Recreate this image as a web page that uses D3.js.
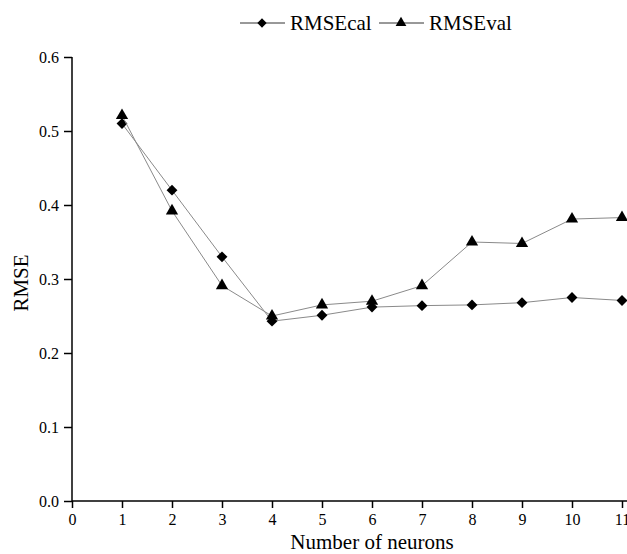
<!DOCTYPE html>
<html>
<head>
<meta charset="utf-8">
<script src="https://cdn.jsdelivr.net/npm/d3@7"></script>
<style>
  body { margin: 0; background: #fff; }
  text { font-family: "Liberation Serif", "Times New Roman", serif; fill: #000; }
</style>
</head>
<body>
<div id="chart"></div>
<script>
var neurons = [1, 2, 3, 4, 5, 6, 7, 8, 9, 10, 11];
var rmseCal = [0.510, 0.420, 0.330, 0.243, 0.251, 0.262, 0.264, 0.265, 0.268, 0.275, 0.271];
var rmseVal = [0.521, 0.392, 0.291, 0.250, 0.265, 0.270, 0.291, 0.350, 0.348, 0.381, 0.383];
var xTicks = [0, 1, 2, 3, 4, 5, 6, 7, 8, 9, 10, 11];
var yTicks = [0, 0.1, 0.2, 0.3, 0.4, 0.5, 0.6];

var w = 627, h = 554,
    pLeft = 72, pRight = 622, pTop = 57, pBottom = 501;

var svg = d3.select('#chart').append('svg')
  .attr('width', w)
  .attr('height', h);

var x = d3.scaleLinear().domain([0, 11]).range([pLeft, pRight]);
var y = d3.scaleLinear().domain([0, 0.6]).range([pBottom, pTop]);

// axes
var xAxis = svg.append('g')
  .attr('transform', 'translate(0,' + pBottom + ')')
  .call(d3.axisBottom(x).tickValues(xTicks).tickSize(7).tickPadding(6).tickFormat(d3.format('d')));
var yAxis = svg.append('g')
  .attr('transform', 'translate(' + pLeft + ',0)')
  .call(d3.axisLeft(y).tickValues(yTicks).tickSize(8).tickPadding(5).tickFormat(d3.format('.1f')));

[xAxis, yAxis].forEach(function(g) {
  g.select('.domain').remove();
  g.selectAll('line').attr('stroke', '#000').attr('stroke-width', 1.5);
  g.selectAll('text').style('font-family', '"Liberation Serif", serif').style('font-size', '16px');
});

svg.append('line')
  .attr('x1', pLeft).attr('x2', w)
  .attr('y1', pBottom).attr('y2', pBottom)
  .attr('stroke', '#000').attr('stroke-width', 1.5);
svg.append('line')
  .attr('x1', pLeft).attr('x2', pLeft)
  .attr('y1', pTop).attr('y2', pBottom)
  .attr('stroke', '#000').attr('stroke-width', 1.5);

// axis titles
svg.append('text')
  .attr('x', 372)
  .attr('y', 549)
  .attr('text-anchor', 'middle')
  .style('font-size', '21px')
  .text('Number of neurons');
svg.append('text')
  .attr('transform', 'translate(28,283) rotate(-90)')
  .attr('text-anchor', 'middle')
  .style('font-size', '21px')
  .text('RMSE');

var diamond = d3.symbol().type(d3.symbolDiamond2).size(75);
var triangle = d3.symbol().type(d3.symbolTriangle).size(65);

var series = [
  {name: 'RMSEcal', vals: rmseCal, sym: diamond, leg: d3.symbol().type(d3.symbolDiamond2).size(55)},
  {name: 'RMSEval', vals: rmseVal, sym: triangle, leg: d3.symbol().type(d3.symbolTriangle).size(50)}
];

var line = d3.line()
  .x(function(d) { return x(d[0]); })
  .y(function(d) { return y(d[1]); });

series.forEach(function(s) {
  var pts = neurons.map(function(n, i) { return [n, s.vals[i]]; });
  svg.append('path')
    .attr('d', line(pts))
    .attr('fill', 'none')
    .attr('stroke', '#8a8a8a')
    .attr('stroke-width', 1);
  svg.selectAll(null).data(pts)
    .enter()
    .append('path')
    .attr('d', s.sym)
    .attr('transform', function(d) {
      return 'translate(' + x(d[0]) + ',' + y(d[1]) + ')';
    })
    .attr('fill', '#000');
});

// legend
var lx = [240, 379];
series.forEach(function(s, i) {
  var g = svg.append('g').attr('transform', 'translate(' + lx[i] + ',23)');
  g.append('line')
    .attr('x1', 0).attr('x2', 45)
    .attr('y1', 0).attr('y2', 0)
    .attr('stroke', '#333').attr('stroke-width', 1);
  g.append('path')
    .attr('d', s.leg)
    .attr('transform', 'translate(22,0)')
    .attr('fill', '#000');
  g.append('text')
    .attr('x', 50)
    .attr('y', 7)
    .style('font-size', '21px')
    .text(s.name);
});
</script>
</body>
</html>
